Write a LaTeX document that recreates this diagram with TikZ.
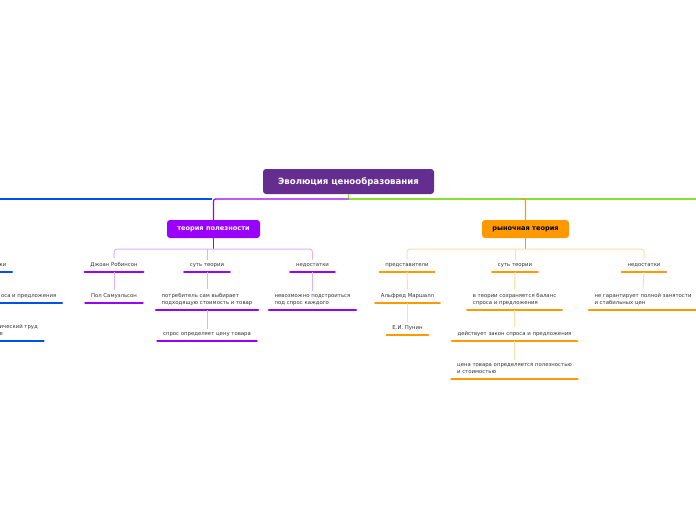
\documentclass[tikz,border=0pt]{standalone}
\usepackage{fontspec}
\setmainfont{DejaVu Sans}
\usetikzlibrary{calc}
\definecolor{rootc}{HTML}{662D91}
\definecolor{vio}{HTML}{9900FF}
\definecolor{vioL}{HTML}{E0B0FF}
\definecolor{orn}{HTML}{FF9900}
\definecolor{ornL}{HTML}{FFDDA8}
\definecolor{blu}{HTML}{0050F0}
\definecolor{grn}{HTML}{88E030}
\definecolor{txt}{HTML}{333333}
\begin{document}
\begin{tikzpicture}[x=1pt,y=-1pt,
  item/.style={font=\fontsize{5.35}{7}\selectfont, text=txt, inner xsep=5.5pt, inner ysep=3.8pt, text depth=1.5pt, align=left, anchor=south},
  ulv/.style={draw=vio, line width=2.5pt, line cap=round},
  ulo/.style={draw=orn, line width=2.5pt, line cap=round},
  ulb/.style={draw=blu, line width=2.5pt, line cap=round},
  brv/.style={draw=vioL, line width=1pt},
  bro/.style={draw=ornL, line width=1pt},
  topbox/.style={rounded corners=3pt, inner sep=0pt, font=\bfseries\fontsize{6.6}{8}\selectfont},
  main/.style={line width=1.2pt}
]
\useasboundingbox (0,0) rectangle (696,520);
\clip (0,0) rectangle (696,520);

% top-level boxes
\node[topbox, fill=rootc, text=white, minimum width=171pt, minimum height=25pt, font=\bfseries\fontsize{8.6}{10}\selectfont] (root) at (348.5,181.5) {Эволюция ценообразования};
\node[topbox, fill=vio, text=white, minimum width=93pt, minimum height=18pt] (tp) at (213.5,229) {теория полезности};
\node[topbox, fill=orn, text=black, minimum width=87pt, minimum height=18pt] (rt) at (525.5,229) {рыночная теория};

\coordinate (j) at (348.5,199);
\coordinate (lend) at (-10,199);
\coordinate (rend) at (706,199);
\draw[main, blu] (212,199) -- (lend);
\draw[main, grn] (root.south) -- (j) -- (rend);
\draw[main, vio, rounded corners=2pt] (j) -| (tp.north);
\draw[main, orn, rounded corners=2pt] ($(rt.north |- j)+(-4,0)$) -| (rt.north);

% violet branch items
\node[item] (dj) at (114,272) {Джоан Робинсон};
\node[item] (ps) at (114,303) {Пол Самуэльсон};
\node[item] (st1) at (207,272) {суть теории};
\node[item] (pt) at (207,310) {потребитель сам выбирает\\подходящую стоимость и товар};
\node[item] (so) at (207,341) {спрос определяет цену товара};
\node[item] (nd1) at (312.5,272) {недостатки};
\node[item] (nv) at (312.5,310) {невозможно подстроиться\\под спрос каждого};

\foreach \n in {dj,ps,st1,pt,so,nd1,nv} \draw[ulv] (\n.south west) -- (\n.south east);

\coordinate (tpj) at (213.5,249);
\draw[main, vio] (tp.south) -- (tpj);
\draw[brv, rounded corners=3pt] (tpj) -| (dj.north);
\draw[brv, rounded corners=3pt] (tpj) -| (nd1.north);
\draw[brv] (st1.north |- tpj) -- (st1.north);
\draw[brv] (dj.south) -- (ps.north);
\draw[brv] (st1.south) -- (pt.north);
\draw[brv] (pt.south) -- (so.north);
\draw[brv] (nd1.south) -- (nv.north);

% orange branch items
\node[item] (pr) at (407,272) {представители};
\node[item] (am) at (407.5,303) {Альфред Маршалл};
\node[item] (ep) at (407.5,335) {Е.И. Пунин};
\node[item] (st2) at (515,272) {суть теории};
\node[item] (vt) at (514.5,310) {в теории сохраняется баланс\\спроса и предложения};
\node[item] (dz) at (514.5,341) {действует закон спроса и предложения};
\node[item] (ct) at (514.5,379) {цена товара определяется полезностью\\и стоимостью};
\node[item] (nd2) at (644,272) {недостатки};
\node[item] (ng) at (643,310) {не гарантирует полной занятости\\и стабильных цен};

\foreach \n in {pr,am,ep,st2,vt,dz,ct,nd2,ng} \draw[ulo] (\n.south west) -- (\n.south east);

\coordinate (rtj) at (525.5,249);
\draw[main, orn] (rt.south) -- (rtj);
\draw[bro, rounded corners=3pt] (rtj) -| (pr.north);
\draw[bro, rounded corners=3pt] (rtj) -| (nd2.north);
\draw[bro] (st2.north |- rtj) -- (st2.north);
\draw[bro] (pr.south) -- (am.north);
\draw[bro] (am.south) -- (ep.north);
\draw[bro] (st2.south) -- (vt.north);
\draw[bro] (vt.south) -- (dz.north);
\draw[bro] (dz.south) -- (ct.north);
\draw[bro] (nd2.south) -- (ng.north);

% blue branch (cut off at left edge)
\coordinate (bx) at (-20,0);
\node[item, anchor=south east] (lb1) at (12,272) {ки};
\node[item, anchor=south east] (lb2) at (62,303) {оса и предложения};
\node[item, anchor=south west] (lb3) at (-6,341) {ический труд\\е};
\foreach \n in {lb1,lb2,lb3} \draw[ulb] (\n.south east) -- (\n.south east -| bx);
\end{tikzpicture}
\end{document}
